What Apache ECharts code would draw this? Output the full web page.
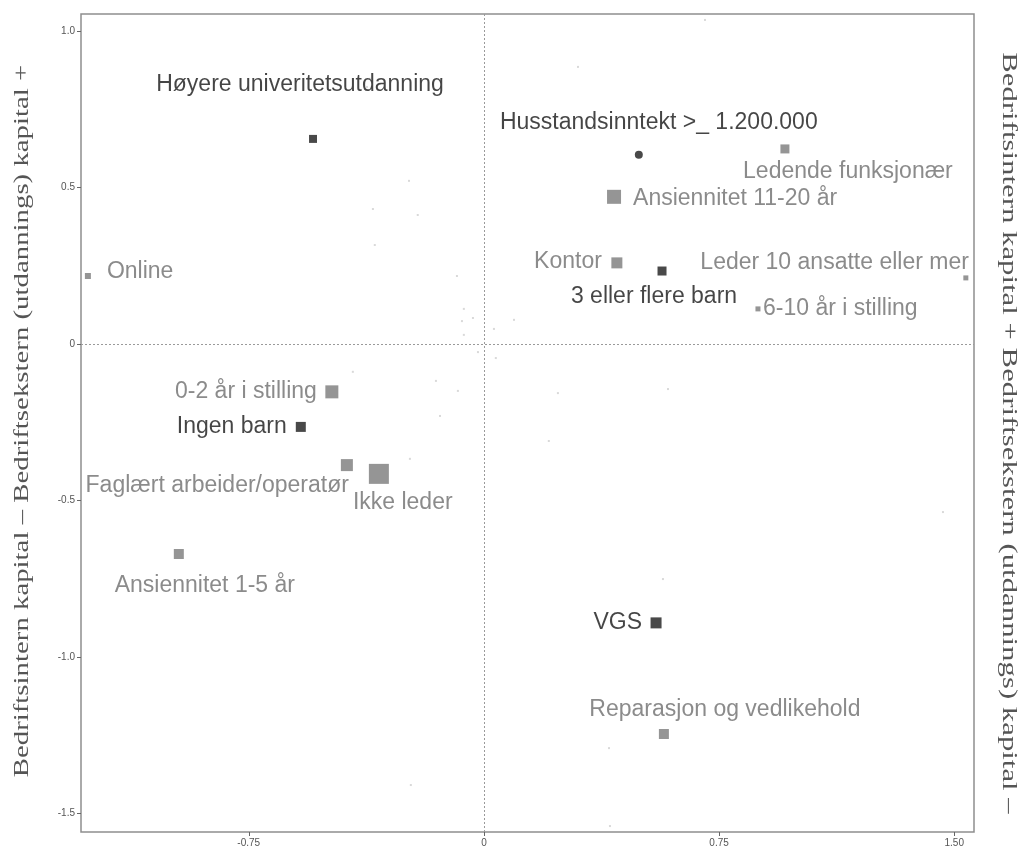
<!DOCTYPE html>
<html>
<head>
<meta charset="utf-8">
<script src="https://cdn.jsdelivr.net/npm/echarts@6/dist/echarts.min.js"></script>
<style>
  html, body { margin: 0; padding: 0; background: #ffffff; }
  #chart { width: 1025px; height: 851px; }
</style>
</head>
<body>
<div id="chart"></div>
<script>
// Category points (correspondence-analysis coordinates)
const categories = [
  'Høyere univeritetsutdanning', 'Husstandsinntekt >_ 1.200.000', '3 eller flere barn',
  'Ingen barn', 'VGS',
  'Ledende funksjonær', 'Ansiennitet 11-20 år', 'Kontor', 'Leder 10 ansatte eller mer',
  '6-10 år i stilling', 'Online', '0-2 år i stilling', 'Faglært arbeider/operatør',
  'Ikke leder', 'Ansiennitet 1-5 år', 'Reparasjon og vedlikehold'
];
const xValues = [
  -0.545, 0.494, 0.568, -0.584, 0.549,
  0.960, 0.415, 0.424, 1.537, 0.874, -1.263, -0.485, -0.437, -0.335, -0.973, 0.574
];
const yValues = [
  0.655, 0.604, 0.233, -0.265, -0.891,
  0.623, 0.470, 0.259, 0.211, 0.112, 0.217, -0.153, -0.387, -0.415, -0.671, -1.246
];
// group: 'a' = household / education (dark), 'b' = work (grey)
const groups = ['a', 'a', 'a', 'a', 'a', 'b', 'b', 'b', 'b', 'b', 'b', 'b', 'b', 'b', 'b', 'b'];

// Unlabelled background points
const minorX = [
  -0.348, -0.086, -0.064, -0.070, -0.035, -0.064, -0.019, 0.032, 0.096, 0.038,
  -0.418, -0.153, -0.083, -0.140, -0.236, 0.236, 0.207, 0.587, 1.464, 0.571,
  -0.364, -0.373, 0.300, -0.239, -0.354, -0.211, 0.705, 0.399, -0.233, 0.402
];
const minorY = [
  0.316, 0.217, 0.112, 0.073, 0.083, 0.029, -0.026, 0.048, 0.077, -0.045,
  -0.089, -0.118, -0.150, -0.230, -0.367, -0.157, -0.310, -0.144, -0.537, -0.751,
  0.847, 0.821, 0.885, 0.521, 0.431, 0.412, 1.035, -1.291, -1.409, -1.540
];

// Axis ticks
const xTicks = [-0.75, 0, 0.75, 1.5];
const xTickLabels = ['-0.75', '0', '0.75', '1.50'];
const yTicks = [-1.5, -1.0, -0.5, 0, 0.5, 1.0];
const yTickLabels = ['-1.5', '-1.0', '-0.5', '0', '0.5', '1.0'];

const leftTitle = 'Bedriftsintern kapital – Bedriftsekstern (utdannings) kapital +';
const rightTitle = 'Bedriftsintern kapital + Bedriftsekstern (utdannings) kapital –';

// Marker size and label placement per category: [size, symbol, align, dx, dy]
const look = {
  'Høyere univeritetsutdanning': [8, 'rect', 'center', -13, -54],
  'Husstandsinntekt >_ 1.200.000': [8, 'circle', 'center', 20, -32],
  '3 eller flere barn': [9, 'rect', 'center', -8, 26],
  'Ingen barn': [10, 'rect', 'right', -14, 0],
  'VGS': [11, 'rect', 'right', -14, 0],
  'Ledende funksjonær': [9, 'rect', 'center', 63, 23],
  'Ansiennitet 11-20 år': [14, 'rect', 'left', 19, 2],
  'Kontor': [11, 'rect', 'right', -15, -1],
  'Leder 10 ansatte eller mer': [5, 'rect', 'right', 3, -15],
  '6-10 år i stilling': [5, 'rect', 'left', 5, 0],
  'Online': [6, 'rect', 'left', 19, -4],
  '0-2 år i stilling': [13, 'rect', 'right', -15, 0],
  'Faglært arbeider/operatør': [12, 'rect', 'right', 2, 21],
  'Ikke leder': [20, 'rect', 'left', -26, 29],
  'Ansiennitet 1-5 år': [10, 'rect', 'center', 26, 32],
  'Reparasjon og vedlikehold': [10, 'rect', 'center', 61, -24]
};

const palette = {
  a: { mark: '#1c1c1c', text: '#161616' },
  b: { mark: '#7b7b7b', text: '#6e6e6e' }
};

function buildPoints(group) {
  const out = [];
  categories.forEach((name, i) => {
    if (groups[i] !== group) return;
    const [size, symbol, align, dx, dy] = look[name];
    out.push({
      name: name,
      value: [xValues[i], yValues[i]],
      symbol: symbol,
      symbolSize: size,
      label: {
        show: true,
        position: 'inside',
        align: align,
        verticalAlign: 'middle',
        offset: [dx, dy],
        formatter: '{b}',
        color: palette[group].text,
        fontSize: 23,
        fontFamily: 'Liberation Sans, Arial, sans-serif'
      }
    });
  });
  return out;
}

const minorPoints = minorX.map((x, i) => [x, minorY[i]]);

const axisLabelFont = {
  fontSize: 10,
  color: '#555555',
  fontFamily: 'Liberation Sans Narrow, Liberation Sans, sans-serif'
};

const titleStyle = {
  fill: '#555555', fontSize: 22,
  fontFamily: 'Liberation Serif, Times New Roman, serif',
  align: 'center', verticalAlign: 'middle'
};

const chart = echarts.init(document.getElementById('chart'), null, { renderer: 'canvas' });
chart.setOption({
  animation: false,
  backgroundColor: '#ffffff',
  grid: {
    left: 81, top: 14, width: 893, height: 818,
    show: true, borderColor: '#8e8e8e', borderWidth: 1.5, backgroundColor: 'transparent'
  },
  xAxis: {
    type: 'value',
    min: -1.285, max: 1.563,
    axisLine: { show: false, onZero: false },
    splitLine: { show: false },
    axisTick: { show: true, length: 4, lineStyle: { color: '#666666' }, customValues: xTicks },
    axisLabel: Object.assign({
      margin: 6,
      customValues: xTicks,
      formatter: v => xTickLabels[xTicks.findIndex(t => Math.abs(t - v) < 1e-9)]
    }, axisLabelFont)
  },
  yAxis: {
    type: 'value',
    min: -1.559, max: 1.054,
    axisLine: { show: false, onZero: false },
    splitLine: { show: false },
    axisTick: { show: true, length: 4, lineStyle: { color: '#666666' }, customValues: yTicks },
    axisLabel: Object.assign({
      margin: 6,
      customValues: yTicks,
      formatter: v => yTickLabels[yTicks.findIndex(t => Math.abs(t - v) < 1e-9)]
    }, axisLabelFont)
  },
  graphic: [
    {
      type: 'text', x: 22, y: 421, rotation: Math.PI / 2, scaleX: 1.31,
      style: Object.assign({ text: leftTitle }, titleStyle)
    },
    {
      type: 'text', x: 1009, y: 433, rotation: -Math.PI / 2, scaleX: 1.40,
      style: Object.assign({ text: rightTitle }, titleStyle)
    }
  ],
  series: [
    {
      name: 'minor',
      type: 'scatter',
      data: minorPoints,
      symbol: 'rect',
      symbolSize: 2,
      itemStyle: { color: '#cfcfcf' },
      silent: true,
      z: 1,
      markLine: {
        silent: true,
        symbol: 'none',
        label: { show: false },
        lineStyle: { color: '#9a9a9a', type: [2, 2], width: 1 },
        data: [{ xAxis: 0 }, { yAxis: 0 }]
      }
    },
    {
      name: 'work',
      type: 'scatter',
      data: buildPoints('b'),
      itemStyle: { color: palette.b.mark },
      z: 3
    },
    {
      name: 'household',
      type: 'scatter',
      data: buildPoints('a'),
      itemStyle: { color: palette.a.mark },
      z: 4
    }
  ]
});
</script>
</body>
</html>
